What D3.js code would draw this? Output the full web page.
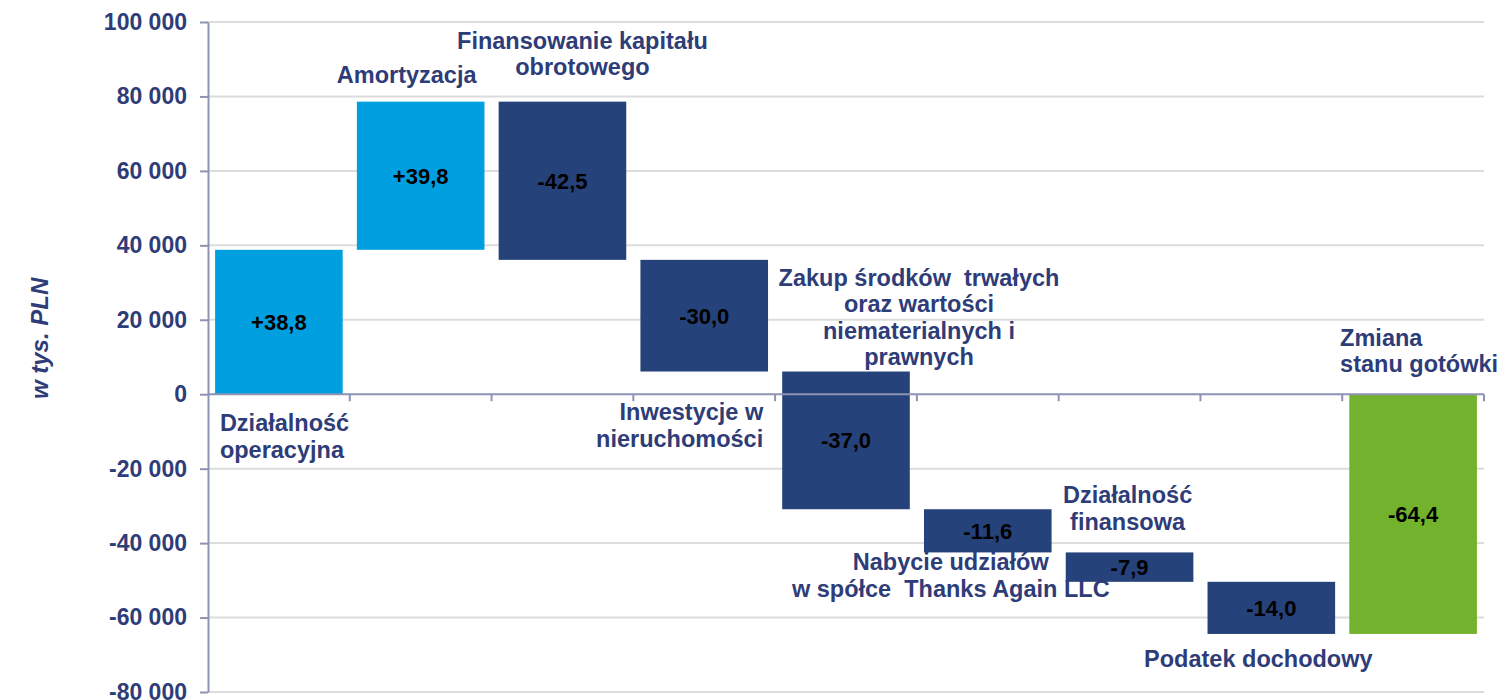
<!DOCTYPE html>
<html>
<head>
<meta charset="utf-8">
<script src="https://cdn.jsdelivr.net/npm/d3@7"></script>
<style>
  body { margin: 0; background: #fff; }
  text { font-family: "Liberation Sans", Arial, sans-serif; }
</style>
</head>
<body>
<svg id="chart"></svg>
<script>
// data (w tys. PLN)
const categories = [
    ['Działalność', 'operacyjna'],
    ['Amortyzacja'],
    ['Finansowanie kapitału', 'obrotowego'],
    ['Inwestycje w', 'nieruchomości'],
    ['Zakup środków  trwałych', 'oraz wartości', 'niematerialnych i', 'prawnych'],
    ['Nabycie udziałów', 'w spółce  Thanks Again LLC'],
    ['Działalność', 'finansowa'],
    ['Podatek dochodowy'],
    ['Zmiana', 'stanu gotówki']
];
const changes = [38800, 39800, -42500, -30000, -37000, -11600, -7900, -14000];
const totalChange = -64400;
const yTicks = [-80000, -60000, -40000, -20000, 0, 20000, 40000, 60000, 80000, 100000];
const yTitle = 'w tys. PLN';

// constants for svg
const svgWidth = 1501;
const svgHeight = 700;
const plot = { left: 208, right: 1484, top: 22, bottom: 692 };

const colors = { up: '#009fdf', down: '#26427a', total: '#72b22c' };
const labelColor = '#2e3c78';
const axisColor = '#8d93b3';

// build waterfall steps
var bars = [];
var running = 0;
for (let i = 0; i < changes.length; i++) {
    bars.push({
        index: i,
        start: running,
        end: running + changes[i],
        value: changes[i],
        kind: changes[i] >= 0 ? 'up' : 'down'
    });
    running = running + changes[i];
}
bars.push({ index: changes.length, start: 0, end: totalChange, value: totalChange, kind: 'total' });

function valueText(v) {
    var s = (Math.abs(v) / 1000).toFixed(1).replace('.', ',');
    return (v >= 0 ? '+' : '-') + s;
}

const locale = d3.formatLocale({ decimal: ',', thousands: ' ', grouping: [3], currency: ['', ''], minus: '-' });
const tickFormat = locale.format(',d');

const svg = d3.select('#chart')
    .attr('width', svgWidth)
    .attr('height', svgHeight);

const x = d3.scaleBand()
    .domain(d3.range(categories.length))
    .range([plot.left, plot.right])
    .paddingInner(0.1)
    .paddingOuter(0.05);

const y = d3.scaleLinear()
    .domain([-80000, 100000])
    .range([plot.bottom, plot.top]);

// gridlines
svg.append('g')
    .selectAll('line')
    .data(yTicks.filter(function (d) { return d !== 0; }))
    .join('line')
    .attr('x1', plot.left)
    .attr('x2', plot.right)
    .attr('y1', function (d) { return y(d); })
    .attr('y2', function (d) { return y(d); })
    .attr('stroke', '#dcdcdc')
    .attr('stroke-width', 2);

// bars
svg.append('g')
    .selectAll('rect')
    .data(bars)
    .join('rect')
    .attr('x', function (d) { return x(d.index); })
    .attr('width', x.bandwidth())
    .attr('y', function (d) { return y(Math.max(d.start, d.end)); })
    .attr('height', function (d) { return Math.abs(y(d.start) - y(d.end)); })
    .attr('fill', function (d) { return colors[d.kind]; });

// x axis at zero
const xAxis = svg.append('g');
xAxis.append('line')
    .attr('x1', plot.left)
    .attr('x2', plot.right)
    .attr('y1', y(0))
    .attr('y2', y(0))
    .attr('stroke', axisColor)
    .attr('stroke-width', 2);
xAxis.selectAll('.xtick')
    .data(d3.range(1, categories.length + 1))
    .join('line')
    .attr('class', 'xtick')
    .attr('x1', function (i) { return plot.left + i * x.step(); })
    .attr('x2', function (i) { return plot.left + i * x.step(); })
    .attr('y1', y(0))
    .attr('y2', y(0) + 7)
    .attr('stroke', axisColor)
    .attr('stroke-width', 2);

// y axis
const yAxis = svg.append('g')
    .attr('transform', 'translate(' + plot.left + ',0)')
    .call(d3.axisLeft(y).tickValues(yTicks).tickFormat(tickFormat).tickSize(8).tickSizeOuter(0).tickPadding(13));
yAxis.select('.domain').attr('stroke', axisColor).attr('stroke-width', 2);
yAxis.selectAll('.tick line').attr('stroke', axisColor).attr('stroke-width', 2);
yAxis.selectAll('.tick text')
    .attr('fill', labelColor)
    .style('font-family', '"Liberation Sans", Arial, sans-serif')
    .style('font-size', '23px')
    .style('font-weight', 'bold');

// y title
svg.append('text')
    .attr('transform', 'translate(48,' + y(15000) + ') rotate(-90)')
    .attr('text-anchor', 'middle')
    .attr('fill', labelColor)
    .style('font-size', '24px')
    .style('font-weight', 'bold')
    .style('font-style', 'italic')
    .text(yTitle);

// value labels inside bars
svg.append('g')
    .selectAll('text')
    .data(bars)
    .join('text')
    .attr('x', function (d) { return x(d.index) + x.bandwidth() / 2; })
    .attr('y', function (d) { return y((d.start + d.end) / 2); })
    .attr('dy', '0.36em')
    .attr('text-anchor', 'middle')
    .attr('fill', '#000')
    .style('font-size', '22px')
    .style('font-weight', 'bold')
    .text(function (d) { return valueText(d.value); });

// category labels placement: anchor, offset from band centre, first baseline (data units)
const labelPlace = [
    { anchor: 'start', dx: -59, at: -9900 },
    { anchor: 'middle', dx: -14, at: 83500 },
    { anchor: 'middle', dx: 20, at: 92800 },
    { anchor: 'end', dx: 59, at: -7000 },
    { anchor: 'middle', dx: 73, at: 29200 },
    { anchor: 'middle', dx: -37, at: -47300 },
    { anchor: 'middle', dx: -2, at: -29300 },
    { anchor: 'middle', dx: -13, at: -73300 },
    { anchor: 'start', dx: -73, at: 13000 }
];

const catLabels = svg.append('g')
    .selectAll('text')
    .data(categories)
    .join('text')
    .attr('text-anchor', function (d, i) { return labelPlace[i].anchor; })
    .attr('fill', labelColor)
    .style('font-size', '23.5px')
    .style('font-weight', 'bold')
    .style('white-space', 'pre');

catLabels.each(function (lines, i) {
    var p = labelPlace[i];
    var cx = x(i) + x.bandwidth() / 2 + p.dx;
    d3.select(this).selectAll('tspan')
        .data(lines)
        .join('tspan')
        .attr('x', cx)
        .attr('y', function (d, j) { return y(p.at) + j * 26.5; })
        .text(function (d) { return d; });
});
</script>
</body>
</html>
